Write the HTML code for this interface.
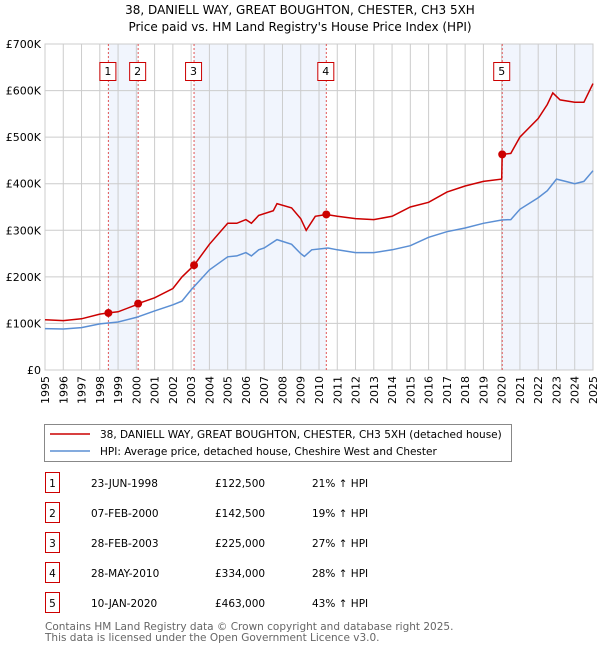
<!DOCTYPE html>
<html><head><meta charset="utf-8"><style>
body{margin:0;background:#fff;font-family:"DejaVu Sans","Liberation Sans",sans-serif;}
svg text{font-family:"DejaVu Sans","Liberation Sans",sans-serif;}
</style></head><body>
<svg id="c" width="600" height="650" xmlns="http://www.w3.org/2000/svg">
<text x="300" y="14" text-anchor="middle" font-size="12">38, DANIELL WAY, GREAT BOUGHTON, CHESTER, CH3 5XH</text>
<text x="300" y="31" text-anchor="middle" font-size="12">Price paid vs. HM Land Registry's House Price Index (HPI)</text>
<g id="plot"></g>
<rect x="44.5" y="424.5" width="467" height="37" fill="#fff" stroke="#888"/>
<line x1="50" y1="434" x2="90" y2="434" stroke="#cc0000" stroke-width="1.5"/>
<text x="100" y="438" font-size="10.5">38, DANIELL WAY, GREAT BOUGHTON, CHESTER, CH3 5XH (detached house)</text>
<line x1="50" y1="451" x2="90" y2="451" stroke="#5b8fd4" stroke-width="1.5"/>
<text x="100" y="455" font-size="10.5">HPI: Average price, detached house, Cheshire West and Chester</text>
<g id="tbl" font-size="10.5"></g>
<text x="45" y="630" font-size="10.5" fill="#666">Contains HM Land Registry data © Crown copyright and database right 2025.</text>
<text x="45" y="641" font-size="10.5" fill="#666">This data is licensed under the Open Government Licence v3.0.</text>
</svg>
<script>
const hpiYears=[1995,1996,1997,1998,1999,2000,2001,2002,2002.5,2003,2004,2005,2005.5,2006,2006.3,2006.7,2007,2007.7,2008.5,2009,2009.2,2009.6,2010.5,2011,2012,2013,2014,2015,2016,2017,2018,2019,2020,2020.5,2021,2022,2022.5,2023,2023.5,2024,2024.5,2025];
const hpiValues=[89,88,91,99,103,113,127,140,148,172,215,243,245,252,245,258,262,280,270,250,244,258,262,258,252,252,258,267,285,297,305,315,322,323,345,370,385,410,405,400,405,428];
const priceYears=[1995,1996,1997,1998,1998.47,1999,2000,2000.1,2001,2002,2002.5,2003.16,2004,2005,2005.5,2006,2006.3,2006.7,2007.5,2007.7,2008.5,2009,2009.3,2009.8,2010.4,2011,2012,2013,2014,2015,2016,2017,2018,2019,2020,2020.03,2020.5,2021,2022,2022.5,2022.8,2023.2,2024,2024.5,2025];
const priceValues=[108,106,110,120,122.5,125,140,142.5,155,175,200,225,270,315,315,323,315,332,342,357,348,325,300,330,334,330,325,323,330,350,360,382,395,405,410,463,465,500,540,570,595,580,575,575,615];
const saleLabels=["1","2","3","4","5"];
const saleYears=[1998.47,2000.1,2003.16,2010.4,2020.03];
const saleValues=[122.5,142.5,225,334,463];
const saleDates=["23-JUN-1998","07-FEB-2000","28-FEB-2003","28-MAY-2010","10-JAN-2020"];
const salePrices=["£122,500","£142,500","£225,000","£334,000","£463,000"];
const saleDiffs=["21% ↑ HPI","19% ↑ HPI","27% ↑ HPI","28% ↑ HPI","43% ↑ HPI"];
const yTicks=[0,100,200,300,400,500,600,700];
const yTickLabels=["£0","£100K","£200K","£300K","£400K","£500K","£600K","£700K"];
const xTicks=[1995,1996,1997,1998,1999,2000,2001,2002,2003,2004,2005,2006,2007,2008,2009,2010,2011,2012,2013,2014,2015,2016,2017,2018,2019,2020,2021,2022,2023,2024,2025];

const L=45,R=593,T=44,B=370;
const X=y=>L+(y-1995)/(2025-1995)*(R-L);
const Y=v=>B-v/700*(B-T);
const NS="http://www.w3.org/2000/svg";
const g=document.getElementById('plot');
function mk(tag,attrs,parent){const e=document.createElementNS(NS,tag);for(const k in attrs)e.setAttribute(k,attrs[k]);(parent||g).appendChild(e);return e;}

let e=mk('rect',{x:L,y:T,width:R-L,height:B-T,fill:'#fff'});


const shadePairs=[[0,1],[2,3],[4,-1]];
shadePairs.forEach(p=>{const x1=X(saleYears[p[0]]),x2=p[1]<0?R:X(saleYears[p[1]]);
 const r=mk('rect',{x:x1,y:T,width:x2-x1,height:B-T,fill:'#eef3fc',opacity:0.8});
 
 });
xTicks.forEach((t,i)=>{const l=mk('line',{x1:X(t),x2:X(t),y1:T,y2:B,stroke:'#ccc','stroke-width':1});
 
 
 const tx=mk('text',{x:0,y:0,'font-size':11,'text-anchor':'end',transform:`translate(${X(t)+4},${B+6}) rotate(-90)`});
 tx.textContent=t;
 
 });
yTicks.forEach((t,i)=>{const l=mk('line',{x1:L,x2:R,y1:Y(t),y2:Y(t),stroke:'#ccc','stroke-width':1});
 
 
 const tx=mk('text',{x:L-4,y:Y(t)+4,'font-size':11,'text-anchor':'end'});
 tx.textContent=yTickLabels[i];
 
 });
e=mk('rect',{x:L,y:T,width:R-L,height:B-T,fill:'none',stroke:'#ccc'});


saleYears.forEach((s,i)=>{const l=mk('line',{x1:X(s),x2:X(s),y1:T,y2:B,stroke:'#e05555','stroke-dasharray':'2,2'});
 
 
 const r=mk('rect',{x:X(s)-8.5,y:62.5,width:16,height:18,fill:'#fff',stroke:'#cc0000'});
 
 
 const t=mk('text',{x:X(s)-0.5,y:75,'font-size':11,'text-anchor':'middle'});
 t.textContent=saleLabels[i];
 
 });
const pts=(xs,vs)=>xs.map((x,i)=>X(x).toFixed(1)+','+Y(vs[i]).toFixed(1)).join(' ');
e=mk('polyline',{points:pts(hpiYears,hpiValues),fill:'none',stroke:'#5b8fd4','stroke-width':1.5});


e=mk('polyline',{points:pts(priceYears,priceValues),fill:'none',stroke:'#cc0000','stroke-width':1.5});


saleYears.forEach((s,i)=>{const c=mk('circle',{cx:X(s),cy:Y(saleValues[i]),r:4,fill:'#cc0000'});
 
 });

const tb=document.getElementById('tbl');
const rowY=[483,513,543,573,603];
saleLabels.forEach((lab,i)=>{const y=rowY[i];
 const r=mk('rect',{x:45.5,y:y-10.5,width:14,height:20,fill:'#fff',stroke:'#cc0000'},tb);
 
 
 const cells=[[52.5,lab,'middle'],[91,saleDates[i],'start'],[215,salePrices[i],'start'],[312,saleDiffs[i],'start']];
 cells.forEach((c,j)=>{const t=mk('text',{x:c[0],y:y+4,'text-anchor':c[2]},tb);t.textContent=c[1];
  
  });});
</script>
</body></html>
